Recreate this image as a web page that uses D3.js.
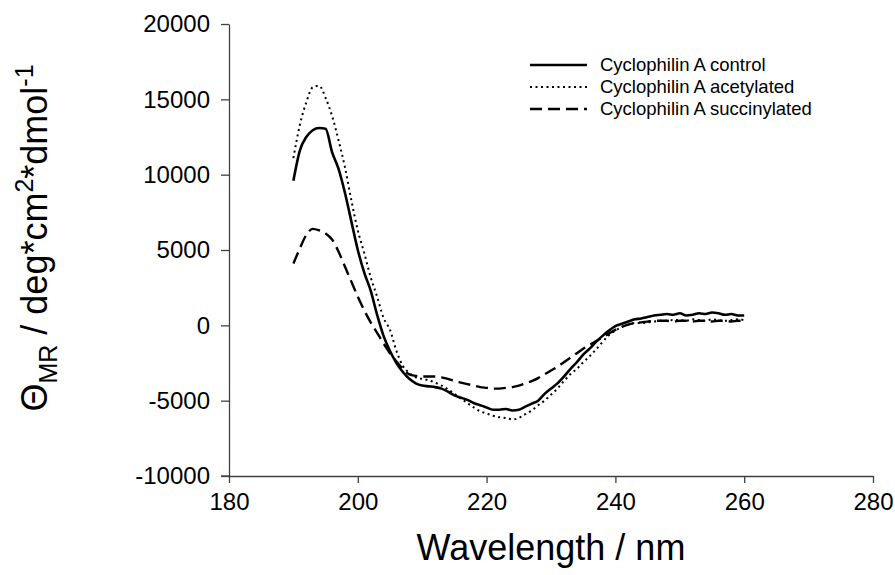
<!DOCTYPE html>
<html>
<head>
<meta charset="utf-8">
<script src="https://cdn.jsdelivr.net/npm/d3@7"></script>
<style>
  body { margin: 0; background: #fff; }
  svg { display: block; font-family: "Liberation Sans", Arial, sans-serif; }
</style>
</head>
<body>
<svg id="chart" width="895" height="575"></svg>
<script>
// longueurs d'onde (nm) et ellipticité molaire par résidu
const wavelengths = d3.range(190, 261);

const control = [
  9600, 11600, 12500, 12950, 13100, 13050, 11500, 10400, 8800, 6900,
  5000, 3500, 2300, 700, -700, -1700, -2500, -3100, -3550, -3850,
  -4000, -4050, -4100, -4200, -4400, -4650, -4800, -4950, -5150, -5300,
  -5450, -5600, -5600, -5550, -5650, -5600, -5400, -5200, -5000, -4550,
  -4200, -3850, -3400, -2900, -2450, -1950, -1550, -1100, -700, -350,
  -50, 100, 250, 400, 450, 550, 650, 700, 750, 700,
  800, 650, 700, 800, 750, 850, 800, 700, 750, 650,
  650
];

const acetylated = [
  11100, 13300, 14800, 15800, 15900, 15100, 13900, 12300, 10500, 8300,
  6300, 4800, 3200, 1900, 500, -300, -1700, -2700, -3150, -3450,
  -3550, -3650, -3800, -4000, -4250, -4550, -4850, -5150, -5450, -5700,
  -5850, -6000, -6100, -6150, -6250, -6150, -5900, -5650, -5300, -5000,
  -4600, -4200, -3700, -3250, -2900, -2450, -2050, -1600, -1100, -650,
  -350, -100, 50, 150, 150, 200, 250, 300, 300, 350,
  350, 300, 400, 350, 300, 400, 350, 300, 350, 400,
  350
];

const succinylated = [
  4100, 5100, 6000, 6400, 6300, 6100, 5700, 4900, 3900, 2900,
  1900, 1000, 200, -500, -1200, -1850, -2400, -2900, -3250, -3350,
  -3400, -3400, -3400, -3450, -3550, -3700, -3800, -3900, -4000, -4100,
  -4150, -4200, -4200, -4150, -4100, -4000, -3850, -3700, -3500, -3250,
  -3000, -2750, -2450, -2150, -1850, -1550, -1300, -1050, -800, -550,
  -300, -100, 50, 150, 200, 250, 300, 300, 300, 250,
  300, 300, 250, 300, 300, 250, 300, 300, 250, 300,
  300
];

const seriesNames = ["Cyclophilin A control", "Cyclophilin A acetylated", "Cyclophilin A succinylated"];
const seriesDash = [null, "2,3.5", "12,6"];
const seriesWidth = [2.6, 2, 2.4];

const xTicks = [180, 200, 220, 240, 260, 280];
const yTicks = [-10000, -5000, 0, 5000, 10000, 15000, 20000];

const svg = d3.select("#chart");

const x = d3.scaleLinear().domain([180, 280]).range([229, 873]);
const y = d3.scaleLinear().domain([-10000, 20000]).range([476, 24]);

// axes
const axeX = svg.append("g")
  .attr("transform", "translate(0," + y(-10000) + ")")
  .call(d3.axisBottom(x).tickValues(xTicks).tickSize(7).tickSizeOuter(0).tickPadding(10));
const axeY = svg.append("g")
  .attr("transform", "translate(" + x(180) + ",0)")
  .call(d3.axisLeft(y).tickValues(yTicks).tickSize(8).tickSizeOuter(0).tickPadding(11).tickFormat((d) => String(d)));

[axeX, axeY].forEach((a) => {
  a.select(".domain").attr("stroke", "#404040").attr("stroke-width", 1.3);
  a.selectAll(".tick line").attr("stroke", "#404040").attr("stroke-width", 1.3);
  a.selectAll("text").attr("fill", "#000").style("font-size", "24px").style("font-family", "Liberation Sans, Arial, sans-serif");
});
// prolonger l'axe x un peu à gauche, comme l'original
axeX.append("line").attr("x1", x(180) - 8).attr("x2", x(180)).attr("y1", 0).attr("y2", 0)
  .attr("stroke", "#404040").attr("stroke-width", 1.3);

// courbes
const ligne = d3.line()
  .x((d, i) => x(wavelengths[i]))
  .y((d) => y(d))
  .curve(d3.curveMonotoneX);

[control, acetylated, succinylated].forEach((serie, k) => {
  svg.append("path")
    .datum(serie)
    .attr("d", ligne)
    .attr("fill", "none")
    .attr("stroke", "#000")
    .attr("stroke-width", seriesWidth[k])
    .attr("stroke-dasharray", seriesDash[k])
    .attr("stroke-linejoin", "round");
});

// légende
const legende = svg.append("g");
seriesNames.forEach((nom, k) => {
  const ly = 65 + k * 22;
  legende.append("line")
    .attr("x1", 530).attr("x2", 587).attr("y1", ly).attr("y2", ly)
    .attr("stroke", "#000").attr("stroke-width", seriesWidth[k])
    .attr("stroke-dasharray", seriesDash[k]);
  legende.append("text")
    .attr("x", 600).attr("y", ly + 6)
    .style("font-size", "18.5px")
    .text(nom);
});

// titre axe x
svg.append("text")
  .attr("x", 551).attr("y", 560)
  .attr("text-anchor", "middle")
  .style("font-size", "36px")
  .text("Wavelength / nm");

// titre axe y (avec indices et exposants)
const titreY = svg.append("text")
  .attr("transform", "translate(47,238) rotate(-90)")
  .attr("text-anchor", "middle")
  .style("font-size", "36px");
titreY.append("tspan").text("\u0398");
titreY.append("tspan").attr("dy", 10).style("font-size", "25px").text("MR");
titreY.append("tspan").attr("dy", -10).text(" / deg*cm");
titreY.append("tspan").attr("dy", -14).style("font-size", "25px").text("2");
titreY.append("tspan").attr("dy", 14).text("*dmol");
titreY.append("tspan").attr("dy", -14).style("font-size", "25px").text("-1");
</script>
</body>
</html>
